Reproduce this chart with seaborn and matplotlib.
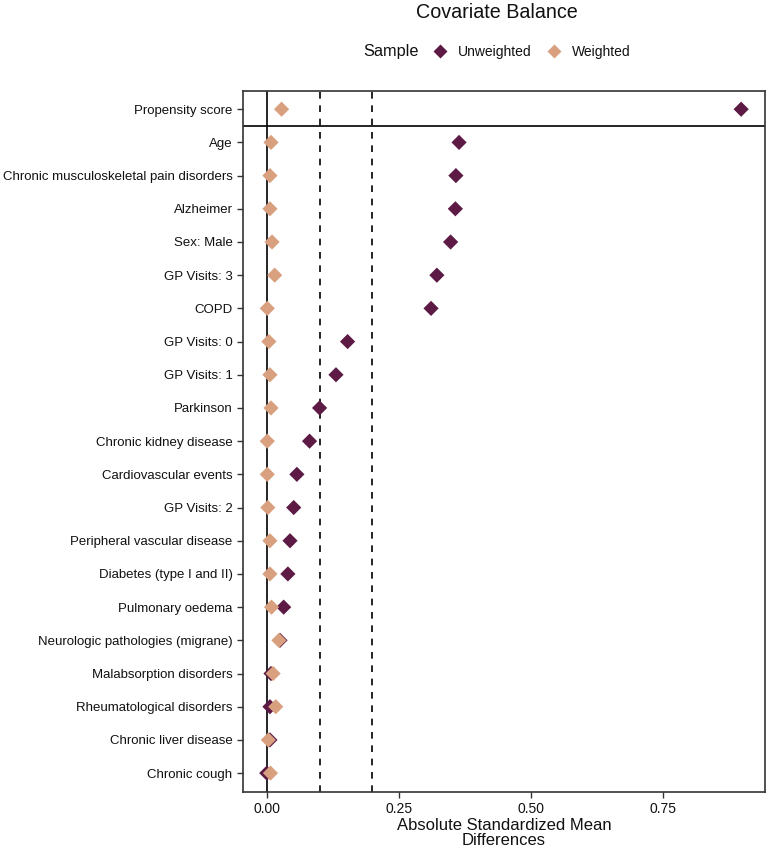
import matplotlib
matplotlib.use("Agg")
import matplotlib.pyplot as plt
from matplotlib.lines import Line2D
import seaborn as sns
import pandas as pd

covariates = [
    "Propensity score", "Age", "Chronic musculoskeletal pain disorders", "Alzheimer",
    "Sex: Male", "GP Visits: 3", "COPD", "GP Visits: 0", "GP Visits: 1", "Parkinson",
    "Chronic kidney disease", "Cardiovascular events", "GP Visits: 2",
    "Peripheral vascular disease", "Diabetes (type I and II)", "Pulmonary oedema",
    "Neurologic pathologies (migrane)", "Malabsorption disorders",
    "Rheumatological disorders", "Chronic liver disease", "Chronic cough",
]
unweighted = [0.898, 0.364, 0.358, 0.357, 0.348, 0.322, 0.311, 0.153, 0.131, 0.100,
              0.081, 0.057, 0.051, 0.044, 0.040, 0.032, 0.025, 0.008, 0.006, 0.006, 0.000]
weighted = [0.028, 0.008, 0.006, 0.006, 0.010, 0.015, 0.001, 0.004, 0.006, 0.008,
            0.001, 0.001, 0.002, 0.006, 0.006, 0.009, 0.023, 0.012, 0.017, 0.003, 0.007]
samples = ["Unweighted", "Weighted"]
colors = {"Unweighted": "#5c1a45", "Weighted": "#d9a07f"}

df = pd.DataFrame({
    "Covariate": covariates * 2,
    "SMD": unweighted + weighted,
    "Sample": ["Unweighted"] * len(covariates) + ["Weighted"] * len(covariates),
})

sns.set_style("white")
plt.rcParams["font.family"] = ["Liberation Sans", "DejaVu Sans"]

fig = plt.figure(figsize=(7.68, 8.5), dpi=100)
ax = fig.add_axes([0.3164, 0.0682, 0.6796, 0.8248])

sns.scatterplot(data=df, x="SMD", y="Covariate", hue="Sample", hue_order=samples,
                palette=colors, marker="D", s=60, edgecolor="none", ax=ax,
                legend=False, zorder=3)

ax.axvline(0, color="black", lw=1.2, zorder=2)
ax.axvline(0.1, color="black", lw=1.2, ls=(0, (4, 4)), zorder=2)
ax.axvline(0.2, color="black", lw=1.2, ls=(0, (4, 4)), zorder=2)
ax.axhline(0.5, color="black", lw=1.2, zorder=2)

ax.set_xlim(-0.045, 0.943)
ax.set_ylim(len(covariates) - 0.43, -0.55)
ax.set_xticks([0, 0.25, 0.5, 0.75])
ax.set_xticklabels(["0.00", "0.25", "0.50", "0.75"])
ax.tick_params(axis="both", which="both", length=4, width=1, color="#333333",
               labelsize=9.5, labelcolor="#111111", direction="out", bottom=True, left=True)
ax.tick_params(axis="x", labelsize=10)
ax.set_ylabel("")
ax.set_xlabel("Absolute Standardized Mean\nDifferences", fontsize=12, labelpad=1,
              linespacing=1.05, color="#111111")
for sp in ax.spines.values():
    sp.set_color("#333333")
    sp.set_linewidth(1.2)

fig.text(0.647, 0.996, "Covariate Balance", ha="center", va="top", fontsize=14.2,
         color="#111111")
fig.text(0.473, 0.939, "Sample", ha="left", va="center", fontsize=11.7, color="#111111")
handles = [Line2D([], [], marker="D", ls="none", markersize=7, color=colors[s],
                  markeredgecolor="none") for s in samples]
fig.legend(handles, samples, loc="center left", bbox_to_anchor=(0.5638, 0.939),
           ncol=2, frameon=False, fontsize=10, handlelength=1.0, handletextpad=0.8,
           columnspacing=1.08, borderaxespad=0, borderpad=0, labelcolor="#111111")

fig.savefig("out.png", dpi=100)
